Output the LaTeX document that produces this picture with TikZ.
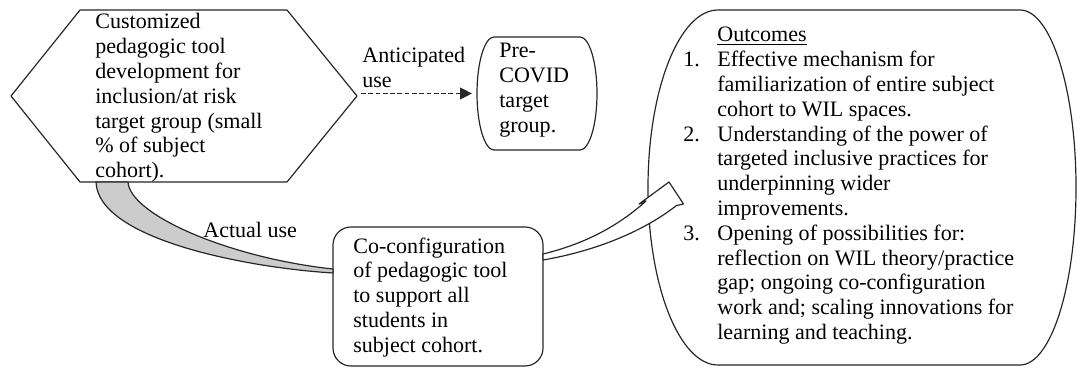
\documentclass[tikz,border=0pt]{standalone}
\usepackage{fontspec}
\setmainfont{Liberation Serif}
\usetikzlibrary{arrows.meta}

\begin{document}
\begin{tikzpicture}[x=0.59pt, y=0.59pt, line join=round,
  outline/.style={draw=black!85, line width=0.7pt},
  txt/.style={inner sep=0pt, anchor=base west, font=\fontsize{13}{14.63}\selectfont},
  dashedarrow/.style={outline, dash pattern=on 2.8pt off 1.5pt, -{Triangle[length=7pt, width=7pt]}},
]
\useasboundingbox (0,0) rectangle (1077,367);

% ---- hexagon: tool development for the target group
\coordinate (hexNW) at (80,357);
\coordinate (hexNE) at (287,357);
\coordinate (hexE)  at (357,271);
\coordinate (hexSE) at (287,185);
\coordinate (hexSW) at (80,185);
\coordinate (hexW)  at (11,271);
\draw[outline] (hexNW) -- (hexNE) -- (hexE) -- (hexSE) -- (hexSW) -- (hexW) -- cycle;
\node[txt] (hextext) at (95,338) {\begin{tabular}[t]{@{}l@{}}
Customized\\ pedagogic tool\\ development for\\ inclusion/at risk\\
target group (small\\ \% of subject\\ cohort).\end{tabular}};

% ---- pre-COVID target group box (elliptical corners)
\coordinate (preW) at (477,273.5);
\draw[outline] (494,330) -- (580,330)
  arc[start angle=90, end angle=-90, x radius=17, y radius=56.5]
  -- (494,217)
  arc[start angle=270, end angle=90, x radius=17, y radius=56.5] -- cycle;
\node[txt] (pretext) at (499,309) {\begin{tabular}[t]{@{}l@{}}
Pre-\\ COVID\\ target\\ group.\end{tabular}};

% ---- anticipated use (dashed)
\coordinate (antStart) at (361,273.5);
\draw[dashedarrow, shorten >=3pt] (antStart) -- (preW);
\node[txt] (antlabel) at (362,304) {\begin{tabular}[t]{@{}l@{}}
Anticipated\\ use\end{tabular}};

% ---- co-configuration box
\coordinate (cocSW) at (333,1);
\coordinate (cocNE) at (543,140);
\draw[outline, rounded corners=10.6pt] (cocSW) rectangle (cocNE);
\node[txt] (coctext) at (353,114) {\begin{tabular}[t]{@{}l@{}}
Co-configuration\\ of pedagogic tool\\ to support all\\ students in\\
subject cohort.\end{tabular}};

% ---- actual use: tapered grey band from the hexagon to the box
\coordinate (bandA) at (96,185);
\coordinate (bandB) at (128,185);
\coordinate (bandC) at (333,94);
\coordinate (bandD) at (333,98);
\draw[outline, fill=black!20] (bandA) .. controls (98,127) and (250,99) .. (bandC)
  -- (bandD) .. controls (230,109) and (130,152) .. (bandB) -- cycle;
\node[txt] (actlabel) at (203,129) {Actual use};

% ---- outcomes shape
\coordinate (outW) at (648,179.5);
\draw[outline] (718,357) -- (1020,357)
  arc[start angle=90, end angle=-90, x radius=56, y radius=177.5]
  -- (718,2)
  arc[start angle=270, end angle=90, x radius=70, y radius=177.5] -- cycle;
\node[txt] (outtext) at (683,325) {\begin{tabular}[t]{@{}p{20.06pt}@{}l@{}}
 & \underline{Outcomes}\\
1. & Effective mechanism for\\
   & familiarization of entire subject\\
   & cohort to WIL spaces.\\
2. & Understanding of the power of\\
   & targeted inclusive practices for\\
   & underpinning wider\\
   & improvements.\\
3. & Opening of possibilities for:\\
   & reflection on WIL theory/practice\\
   & gap; ongoing co-configuration\\
   & work and; scaling innovations for\\
   & learning and teaching.\end{tabular}};

% ---- hollow curved arrow from the box to the outcomes
\coordinate (cocE1) at (543,113);
\coordinate (cocE2) at (543,107);
\coordinate (arrTip) at (683.5,163);
\draw[outline, fill=white] (cocE1) .. controls (580,122) and (615,138) .. (646,166)
  -- (639,163) -- (669,185) -- (arrTip) -- (676.5,161.5)
  .. controls (640,133) and (590,115) .. (cocE2) -- cycle;
\end{tikzpicture}
\end{document}
